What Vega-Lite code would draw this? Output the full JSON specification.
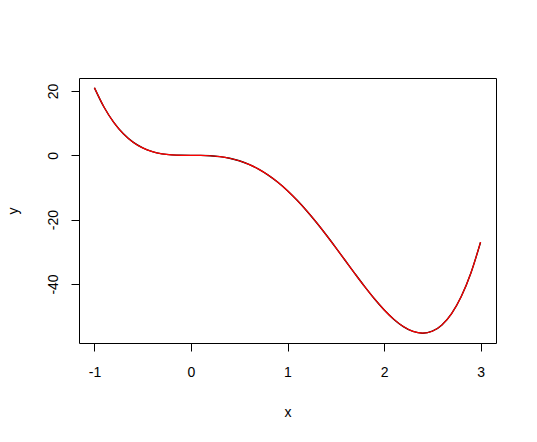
{
  "$schema": "https://vega.github.io/schema/vega-lite/v6.json",
  "width": 417,
  "height": 265,
  "autosize": {"type": "none"},
  "padding": {"left": 79, "top": 78, "right": 41, "bottom": 99},
  "background": "white",
  "data": {
    "values": [
      {"x": -1.0, "y": 21},
      {"x": -0.9, "y": 14.9445},
      {"x": -0.8, "y": 10.24},
      {"x": -0.7, "y": 6.6885},
      {"x": -0.6, "y": 4.104},
      {"x": -0.5, "y": 2.3125},
      {"x": -0.4, "y": 1.152},
      {"x": -0.3, "y": 0.4725},
      {"x": -0.2, "y": 0.136},
      {"x": -0.1, "y": 0.0165},
      {"x": 0.0, "y": 0},
      {"x": 0.1, "y": -0.0155},
      {"x": 0.2, "y": -0.12},
      {"x": 0.3, "y": -0.3915},
      {"x": 0.4, "y": -0.896},
      {"x": 0.5, "y": -1.6875},
      {"x": 0.6, "y": -2.808},
      {"x": 0.7, "y": -4.2875},
      {"x": 0.8, "y": -6.144},
      {"x": 0.9, "y": -8.3835},
      {"x": 1.0, "y": -11},
      {"x": 1.1, "y": -13.9755},
      {"x": 1.2, "y": -17.28},
      {"x": 1.3, "y": -20.8715},
      {"x": 1.4, "y": -24.696},
      {"x": 1.5, "y": -28.6875},
      {"x": 1.6, "y": -32.768},
      {"x": 1.7, "y": -36.8475},
      {"x": 1.8, "y": -40.824},
      {"x": 1.9, "y": -44.5835},
      {"x": 2.0, "y": -48},
      {"x": 2.1, "y": -50.9355},
      {"x": 2.2, "y": -53.24},
      {"x": 2.3, "y": -54.7515},
      {"x": 2.4, "y": -55.296},
      {"x": 2.5, "y": -54.6875},
      {"x": 2.6, "y": -52.728},
      {"x": 2.7, "y": -49.2075},
      {"x": 2.8, "y": -43.904},
      {"x": 2.9, "y": -36.5835},
      {"x": 3.0, "y": -27}
    ]
  },
  "encoding": {
    "x": {
      "field": "x",
      "type": "quantitative",
      "scale": {"domain": [-1.16, 3.16], "nice": false, "zero": false},
      "axis": {
        "values": [-1, 0, 1, 2, 3],
        "labelExpr": "toString(datum.value)",
        "title": "x",
        "labelPadding": 14,
        "titleY": 69,
        "titleBaseline": "middle"
      }
    },
    "y": {
      "field": "y",
      "type": "quantitative",
      "scale": {"domain": [-58.35, 24.05], "nice": false, "zero": false},
      "axis": {
        "values": [-40, -20, 0, 20],
        "labelExpr": "toString(datum.value)",
        "title": "y",
        "labelAngle": -90,
        "labelAlign": "center",
        "labelBaseline": "middle",
        "labelPadding": 18,
        "titleX": -66,
        "titleBaseline": "middle"
      }
    }
  },
  "layer": [
    {
      "mark": {"type": "line", "color": "#000000", "strokeWidth": 1.4, "interpolate": "monotone"}
    },
    {
      "mark": {"type": "line", "color": "#ff0000", "strokeWidth": 1.2, "interpolate": "monotone"}
    }
  ],
  "config": {
    "view": {"stroke": "#000000", "strokeWidth": 1},
    "font": "Liberation Sans",
    "axis": {
      "grid": false,
      "domain": false,
      "ticks": true,
      "tickSize": 8,
      "tickColor": "#000000",
      "labelFont": "Liberation Sans",
      "labelFontSize": 14,
      "labelColor": "#000000",
      "labelFlush": false,
      "labelOverlap": false,
      "titleFont": "Liberation Sans",
      "titleFontSize": 14,
      "titleFontWeight": "normal",
      "titleColor": "#000000"
    }
  }
}
